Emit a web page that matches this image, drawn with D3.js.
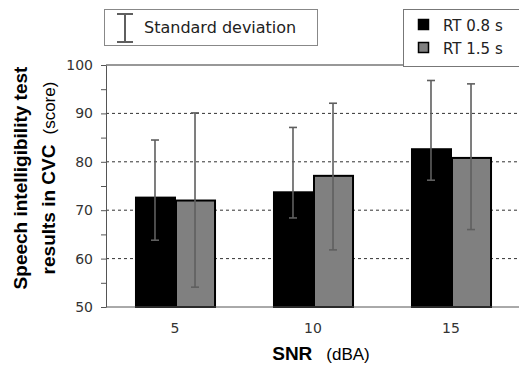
<!DOCTYPE html>
<html>
<head>
<meta charset="utf-8">
<script src="https://cdn.jsdelivr.net/npm/d3@7"></script>
<style>
  html, body { margin: 0; padding: 0; background: #fff; }
  svg { display: block; }
</style>
</head>
<body>
<div id="chart"></div>
<script>
// SNR groups and the two reverberation-time series
const snrLevels = ['5', '10', '15'];
const seriesNames = ['RT 0.8 s', 'RT 1.5 s'];
const seriesColors = ['#000000', '#808080'];

// mean scores per series (rows) and SNR level (cols)
const meanScores = [
  [72.6, 73.7, 82.6],
  [72.0, 77.1, 80.8]
];
// error bar ends
const errLow = [
  [63.8, 68.4, 76.2],
  [54.1, 61.8, 66.0]
];
const errHigh = [
  [84.5, 87.1, 96.8],
  [90.1, 92.1, 96.1]
];
const yTicks = [50, 60, 70, 80, 90, 100];
const yMinorTicks = [55, 65, 75, 85, 95];

const width = 519, height = 365;
const margin = { top: 65, right: -1, bottom: 58, left: 106 };

const svg = d3.select('#chart').append('svg')
  .attr('width', width)
  .attr('height', height);

const x0 = d3.scaleBand()
  .domain(snrLevels)
  .range([margin.left, width - margin.right])
  .paddingInner(0.42)
  .paddingOuter(0.21);

const x1 = d3.scaleBand()
  .domain(d3.range(seriesNames.length))
  .range([0, x0.bandwidth()]);

const y = d3.scaleLinear()
  .domain([50, 100])
  .range([height - margin.bottom, margin.top]);

const font = '"DejaVu Sans", "Noto Sans", sans-serif';
const titleFont = '"Liberation Sans", Arial, sans-serif';

// grid lines (dashed)
svg.append('g')
  .selectAll('line')
  .data(yTicks.filter(t => t > 50 && t < 100))
  .join('line')
  .attr('x1', margin.left).attr('x2', width + 1)
  .attr('y1', d => y(d)).attr('y2', d => y(d))
  .attr('stroke', '#333')
  .attr('stroke-width', 1)
  .attr('stroke-dasharray', '3,3');

// top border
svg.append('line')
  .attr('x1', margin.left).attr('x2', width + 1)
  .attr('y1', y(100)).attr('y2', y(100))
  .attr('stroke', '#333').attr('stroke-width', 1.2);

// bars
const rows = [];
snrLevels.forEach((lvl, j) => {
  seriesNames.forEach((s, i) => {
    rows.push({ lvl, i, mean: meanScores[i][j], lo: errLow[i][j], hi: errHigh[i][j] });
  });
});

svg.append('g')
  .selectAll('rect')
  .data(rows)
  .join('rect')
  .attr('x', d => x0(d.lvl) + x1(d.i) + 1)
  .attr('y', d => y(d.mean))
  .attr('width', x1.bandwidth() - 1)
  .attr('height', d => y(50) - y(d.mean))
  .attr('fill', d => seriesColors[d.i])
  .attr('stroke', '#000')
  .attr('stroke-width', 2);

// error bars
const err = svg.append('g')
  .attr('stroke', '#5f5f5f')
  .attr('stroke-width', 1.6);
const cx = d => x0(d.lvl) + x1(d.i) + x1.bandwidth() / 2;
err.selectAll('line.v')
  .data(rows)
  .join('line')
  .attr('class', 'v')
  .attr('x1', cx).attr('x2', cx)
  .attr('y1', d => y(d.lo)).attr('y2', d => y(d.hi));
err.selectAll('line.cap-hi')
  .data(rows)
  .join('line')
  .attr('class', 'cap-hi')
  .attr('x1', d => cx(d) - 4).attr('x2', d => cx(d) + 4)
  .attr('y1', d => y(d.hi)).attr('y2', d => y(d.hi));
err.selectAll('line.cap-lo')
  .data(rows)
  .join('line')
  .attr('class', 'cap-lo')
  .attr('x1', d => cx(d) - 4).attr('x2', d => cx(d) + 4)
  .attr('y1', d => y(d.lo)).attr('y2', d => y(d.lo));

// y axis
const yAxis = svg.append('g')
  .attr('transform', `translate(${margin.left},0)`)
  .call(d3.axisLeft(y).tickValues(yTicks).tickSize(5).tickPadding(8).tickSizeOuter(0));
yAxis.select('.domain').attr('stroke', '#555');
yAxis.selectAll('.tick line').attr('stroke', '#555');
yAxis.selectAll('.tick text')
  .attr('fill', '#333')
  .style('font-family', font)
  .style('font-size', '14px');
svg.append('g')
  .attr('transform', `translate(${margin.left},0)`)
  .call(d3.axisLeft(y).tickValues(yMinorTicks).tickSize(5).tickFormat(''))
  .call(g => g.select('.domain').remove())
  .selectAll('line').attr('stroke', '#555');

// x axis
const xAxis = svg.append('g')
  .attr('transform', `translate(0,${y(50)})`)
  .call(d3.axisBottom(x0).tickSize(0).tickPadding(16));
xAxis.select('.domain')
  .attr('d', `M${margin.left},0H${width + 1}`)
  .attr('stroke', '#555');
xAxis.selectAll('.tick text')
  .attr('fill', '#333')
  .style('font-family', font)
  .style('font-size', '14px');

// x title
const xt = svg.append('text')
  .attr('x', 321).attr('y', 360)
  .attr('text-anchor', 'middle')
  .attr('font-family', titleFont)
  .attr('font-size', 17)
  .attr('fill', '#000');
xt.append('tspan').text('SNR').attr('font-weight', 'bold').attr('font-size', 19);
xt.append('tspan').attr('dx', 14).text('(dBA)').attr('font-size', 17);

// y title (two lines)
const yt = svg.append('g')
  .attr('transform', 'translate(0,178) rotate(-90)')
  .attr('font-family', titleFont)
  .attr('text-anchor', 'middle');
yt.append('text')
  .attr('x', 0).attr('y', 27)
  .attr('font-weight', 'bold').attr('font-size', 19)
  .text('Speech intelligibility test');
const yt2 = yt.append('text').attr('x', 0).attr('y', 55).attr('font-size', 17);
yt2.append('tspan').text('results in CVC').attr('font-weight', 'bold').attr('font-size', 19);
yt2.append('tspan').attr('dx', 10).text('(score)').attr('font-size', 17);

// legend: standard deviation
svg.append('rect')
  .attr('x', 104.5).attr('y', 9.5).attr('width', 213).attr('height', 36)
  .attr('fill', '#fff').attr('stroke', '#888');
const sd = svg.append('g').attr('stroke', '#5f5f5f').attr('stroke-width', 2);
sd.append('line').attr('x1', 125).attr('x2', 125).attr('y1', 14).attr('y2', 42);
sd.append('line').attr('x1', 117).attr('x2', 133).attr('y1', 14).attr('y2', 14);
sd.append('line').attr('x1', 117).attr('x2', 133).attr('y1', 42).attr('y2', 42);
svg.append('text')
  .attr('x', 144).attr('y', 33)
  .style('font-family', font).style('font-size', '16px')
  .attr('fill', '#222')
  .text('Standard deviation');

// legend: series
svg.append('rect')
  .attr('x', 403.5).attr('y', 9.5).attr('width', 120).attr('height', 57)
  .attr('fill', '#fff').attr('stroke', '#777');
const leg = svg.append('g')
  .selectAll('g')
  .data(seriesNames)
  .join('g')
  .attr('transform', (d, i) => `translate(418,${19 + i * 23})`);
leg.append('rect')
  .attr('width', 10).attr('height', 10)
  .attr('x', 0.5).attr('y', 0.5)
  .attr('fill', (d, i) => seriesColors[i])
  .attr('stroke', '#000').attr('stroke-width', 1.5);
leg.append('text')
  .attr('x', 25).attr('y', 12)
  .style('font-family', font).style('font-size', '15px')
  .attr('fill', '#222')
  .text(d => d);
</script>
</body>
</html>
